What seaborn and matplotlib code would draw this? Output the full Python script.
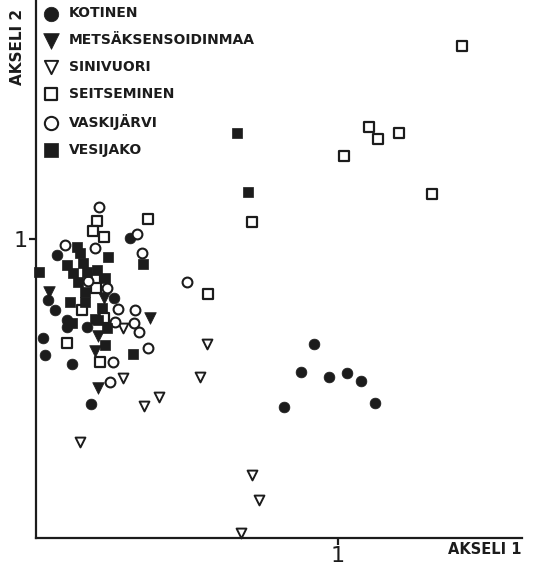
import matplotlib
matplotlib.use("Agg")
import matplotlib.pyplot as plt
import seaborn as sns
import pandas as pd

# ---- data ----
kotinen_x = [0.069, 0.311, 0.041, 0.063, 0.102, 0.102, 0.168, 0.259, 0.024, 0.030, 0.119, 0.182,
             0.922, 0.877, 0.970, 1.029, 1.076, 0.822, 1.123]
kotinen_y = [0.946, 1.005, 0.796, 0.763, 0.729, 0.707, 0.707, 0.804, 0.668, 0.612, 0.582, 0.447,
             0.649, 0.556, 0.537, 0.551, 0.526, 0.439, 0.450]

mets_x = [0.044, 0.224, 0.377, 0.206, 0.195, 0.206]
mets_y = [0.824, 0.802, 0.735, 0.676, 0.625, 0.503]

sini_x = [0.288, 0.287, 0.565, 0.543, 0.408, 0.359, 0.146, 0.716, 0.739, 0.679]
sini_y = [0.704, 0.534, 0.649, 0.539, 0.473, 0.442, 0.320, 0.211, 0.127, 0.018]

seit_x = [0.203, 0.188, 0.225, 0.370, 0.197, 0.200, 0.152, 0.225, 0.104, 0.211, 0.571, 0.714,
          1.021, 1.103, 1.131, 1.202, 1.310, 1.412]
seit_y = [1.061, 1.027, 1.008, 1.066, 0.867, 0.835, 0.763, 0.735, 0.651, 0.590, 0.816, 1.056,
          1.278, 1.376, 1.333, 1.356, 1.150, 1.645]

vask_x = [0.210, 0.097, 0.195, 0.334, 0.350, 0.171, 0.235, 0.272, 0.329, 0.325, 0.342, 0.372,
          0.256, 0.245, 0.499, 0.262]
vask_y = [1.108, 0.981, 0.969, 1.017, 0.952, 0.858, 0.836, 0.765, 0.764, 0.718, 0.689, 0.634,
          0.589, 0.523, 0.857, 0.723]

vesi_x = [0.011, 0.137, 0.146, 0.102, 0.157, 0.124, 0.168, 0.201, 0.140, 0.228, 0.162, 0.113,
          0.162, 0.239, 0.353, 0.218, 0.195, 0.206, 0.234, 0.118, 0.228, 0.322, 0.665, 0.701]
vesi_y = [0.891, 0.974, 0.952, 0.913, 0.919, 0.885, 0.891, 0.896, 0.857, 0.869, 0.824, 0.790,
          0.790, 0.940, 0.916, 0.768, 0.734, 0.729, 0.701, 0.718, 0.645, 0.614, 1.356, 1.158]

groups = ["KOTINEN", "METSÄKSENSOIDINMAA", "SINIVUORI", "SEITSEMINEN", "VASKIJÄRVI", "VESIJAKO"]
xs = [kotinen_x, mets_x, sini_x, seit_x, vask_x, vesi_x]
ys = [kotinen_y, mets_y, sini_y, seit_y, vask_y, vesi_y]

x_ticks = [1]
y_ticks = [1]
x_label = "AKSELI 1"
y_label = "AKSELI 2"

rows = []
for g, gx, gy in zip(groups, xs, ys):
    for a, b in zip(gx, gy):
        rows.append({"group": g, "x": a, "y": b})
df = pd.DataFrame(rows)

# ---- style ----
sns.set_style("white")
plt.rcParams["font.family"] = ["DejaVu Sans"]
ink = "#1c1c1c"

styles = {
    "KOTINEN": dict(marker="o", s=60, facecolor=ink, edgecolor=ink, linewidth=0.5),
    "METSÄKSENSOIDINMAA": dict(marker="v", s=70, facecolor=ink, edgecolor=ink, linewidth=0.5),
    "SINIVUORI": dict(marker="v", s=50, facecolor="white", edgecolor=ink, linewidth=1.4),
    "SEITSEMINEN": dict(marker="s", s=42, facecolor="white", edgecolor=ink, linewidth=1.6),
    "VASKIJÄRVI": dict(marker="o", s=50, facecolor="white", edgecolor=ink, linewidth=1.5),
    "VESIJAKO": dict(marker="s", s=55, facecolor=ink, edgecolor=ink, linewidth=0.5),
}

fig = plt.figure(figsize=(5.34, 5.70), dpi=100)
ax = fig.add_axes([36 / 534, 1 - 538 / 570, 486 / 534, 538 / 570])

for g in groups:
    sub = df[df["group"] == g]
    sns.scatterplot(data=sub, x="x", y="y", ax=ax, label=g, clip_on=False, zorder=3, **styles[g])

ax.set_xlim(0, 486 / 302)
ax.set_ylim(0, 538 / 299)

for side in ["top", "right"]:
    ax.spines[side].set_visible(False)
for side in ["left", "bottom"]:
    ax.spines[side].set_color(ink)
    ax.spines[side].set_linewidth(1.6)

ax.set_xticks(x_ticks)
ax.set_yticks(y_ticks)
ax.set_xticklabels([str(t) for t in x_ticks], fontsize=16, color=ink)
ax.set_yticklabels([str(t) for t in y_ticks], fontsize=16, color=ink)
ax.tick_params(axis="both", direction="out", length=5, width=1.6, color=ink, pad=1,
               bottom=True, left=True)
ax.set_xlabel("")
ax.set_ylabel("")

fig.text(522 / 534, 1 - 550 / 570, x_label, ha="right", va="center", fontsize=10.5,
         fontweight="bold", color=ink)
fig.text(18 / 534, 1 - 47 / 570, y_label, ha="center", va="center", rotation=90,
         fontsize=11, fontweight="bold", color=ink)

leg = ax.legend(loc="upper left", bbox_to_anchor=(0.006, 1.0), frameon=False,
                prop={"weight": "bold", "size": 10}, labelspacing=0.93, markerscale=1.35,
                handlelength=0.9, handletextpad=0.8, borderpad=0.25, borderaxespad=0.2,
                scatterpoints=1)
for t in leg.get_texts():
    t.set_color(ink)

fig.savefig("out.png", dpi=100)
